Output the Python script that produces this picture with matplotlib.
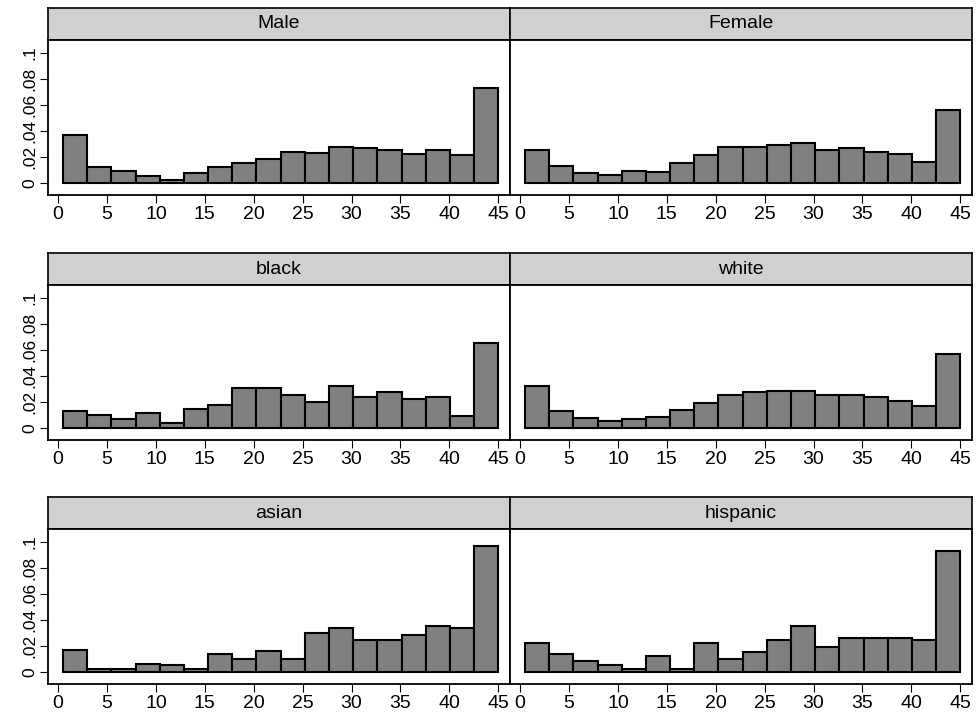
import numpy as np
import matplotlib.pyplot as plt

plt.rcParams['font.family'] = ['Liberation Sans', 'DejaVu Sans']

edges = np.linspace(0.5, 45, 19)
panels = ["Male", "Female", "black", "white", "asian", "hispanic"]
male = [.037, .012, .0095, .0055, .0025, .0075, .012, .0155, .0185, .024, .023, .0275, .0265, .025, .0225, .025, .0215, .073]
female = [.025, .013, .0075, .006, .009, .0085, .015, .0215, .028, .0275, .029, .031, .025, .0265, .024, .0225, .016, .056]
black = [.013, .010, .007, .0115, .0035, .0145, .0175, .031, .031, .0255, .020, .0325, .0235, .028, .022, .024, .0095, .065]
white = [.032, .013, .0075, .0055, .007, .0085, .014, .019, .0255, .028, .0285, .0285, .0255, .0255, .0235, .021, .017, .057]
asian = [.017, .0026, .0026, .0063, .005, .0026, .0137, .0098, .0158, .0098, .030, .034, .0245, .0245, .0285, .0356, .034, .0966]
hispanic = [.0224, .0137, .0082, .005, .0026, .0121, .0026, .0224, .0098, .0153, .0245, .035, .019, .026, .026, .026, .0245, .093]
values = [male, female, black, white, asian, hispanic]

W, H = 979, 722
fig = plt.figure(figsize=(W / 100, H / 100), dpi=100)

col_x = [48, 510]
row_y = [8, 253, 497]
pw, strip_h, plot_h = 462, 32, 155

for i, name in enumerate(panels):
    r, c = divmod(i, 2)
    x0 = col_x[c]
    ytop = row_y[r]
    # strip
    sax = fig.add_axes([x0 / W, 1 - (ytop + strip_h) / H, pw / W, strip_h / H])
    sax.set_facecolor('#d0d0d0')
    sax.set_xticks([]); sax.set_yticks([])
    for s in sax.spines.values():
        s.set_linewidth(1.2)
    sax.text(0.5, 0.5, name, ha='center', va='center', fontsize=14, transform=sax.transAxes)
    # plot
    ax = fig.add_axes([x0 / W, 1 - (ytop + strip_h + plot_h) / H, pw / W, plot_h / H])
    ax.bar(edges[:-1], values[i], width=np.diff(edges), align='edge',
           color='#808080', edgecolor='black', linewidth=1.5)
    ax.set_xlim(-1.03, 46.2)
    ax.set_ylim(-0.0093, 0.11)
    for s in ax.spines.values():
        s.set_linewidth(1.3)
    ax.set_xticks(range(0, 46, 5))
    ax.tick_params(axis='x', labelsize=14, length=6, pad=2)
    if c == 0:
        ax.set_yticks([0, .02, .04, .06, .08, .1])
        ax.set_yticklabels(['0', '.02', '.04', '.06', '.08', '.1'], rotation=90, va='center', fontsize=12.5)
        ax.tick_params(axis='y', length=6, pad=2)
    else:
        ax.set_yticks([])

fig.savefig('out.png', dpi=100)
